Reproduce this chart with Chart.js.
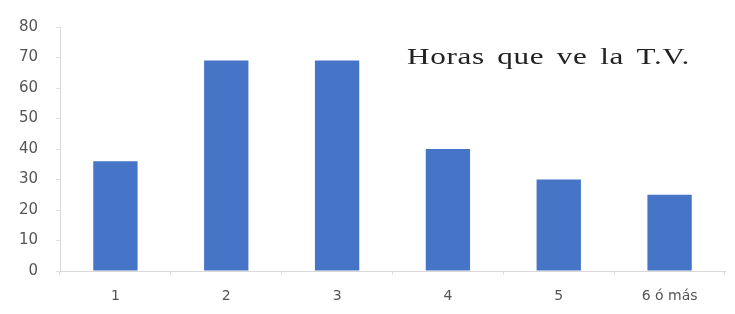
<!DOCTYPE html>
<html lang="es">
<head>
    <meta charset="UTF-8">
    <title>Horas que ve la T.V.</title>
    <script src="https://cdn.jsdelivr.net/npm/chart.js"></script>
    <style>
        html, body { margin: 0; padding: 0; background: #fff; }
        #wrap { width: 735px; height: 314px; }
    </style>
</head>
<body>
    <div id="wrap"><canvas id="horas-chart"></canvas></div>

    <script>
        // datos
        const categorias = ['1', '2', '3', '4', '5', '6 ó más'];
        const valores = [36, 69, 69, 40, 30, 25];
        const ticksY = [0, 10, 20, 30, 40, 50, 60, 70, 80];
        const titulo = 'Horas que ve la T.V.';

        // titulo dentro del area del grafico, algo estirado como en el original
        const tituloPlugin = {
            id: 'tituloInterno',
            afterDraw(chart) {
                const c = chart.ctx;
                c.save();
                c.font = '23px "Liberation Serif", serif';
                c.fillStyle = '#222222';
                c.textAlign = 'left';
                c.textBaseline = 'middle';
                c.letterSpacing = '0.5px';
                c.wordSpacing = '3px';
                const ancho = c.measureText(titulo).width;
                c.translate(407, 58);
                c.scale(283 / ancho, 1);
                c.fillText(titulo, 0, 0);
                c.restore();
            }
        };

        const ctx = document.getElementById('horas-chart').getContext('2d');
        new Chart(ctx, {
            type: 'bar',
            data: {
                labels: categorias,
                datasets: [{
                    data: valores,
                    backgroundColor: '#4674c6',
                    borderWidth: 0,
                    barPercentage: 0.8,
                    categoryPercentage: 0.5
                }]
            },
            plugins: [tituloPlugin],
            options: {
                responsive: true,
                maintainAspectRatio: false,
                animation: false,
                layout: { padding: { top: 26, right: 10, bottom: 0, left: 0 } },
                plugins: {
                    legend: { display: false },
                    tooltip: { enabled: false }
                },
                scales: {
                    x: {
                        grid: { display: true, drawOnChartArea: false, drawTicks: true, tickLength: 4, color: '#e0e0e0' },
                        border: { display: true, color: '#d9d9d9', width: 1 },
                        ticks: {
                            color: '#555555',
                            padding: 13,
                            font: { family: '"DejaVu Sans", sans-serif', size: 14 }
                        },
                        afterFit: s => { s.height = 43; }
                    },
                    y: {
                        min: 0,
                        max: 80,
                        afterBuildTicks: s => { s.ticks = ticksY.map(v => ({ value: v })); },
                        grid: { display: true, drawOnChartArea: false, drawTicks: true, tickLength: 4, color: '#e0e0e0' },
                        border: { display: true, color: '#d9d9d9', width: 1 },
                        ticks: {
                            color: '#555555',
                            padding: 18,
                            font: { family: '"DejaVu Sans", sans-serif', size: 15 }
                        },
                        afterFit: s => { s.width = 60; }
                    }
                }
            }
        });
    </script>
</body>
</html>
